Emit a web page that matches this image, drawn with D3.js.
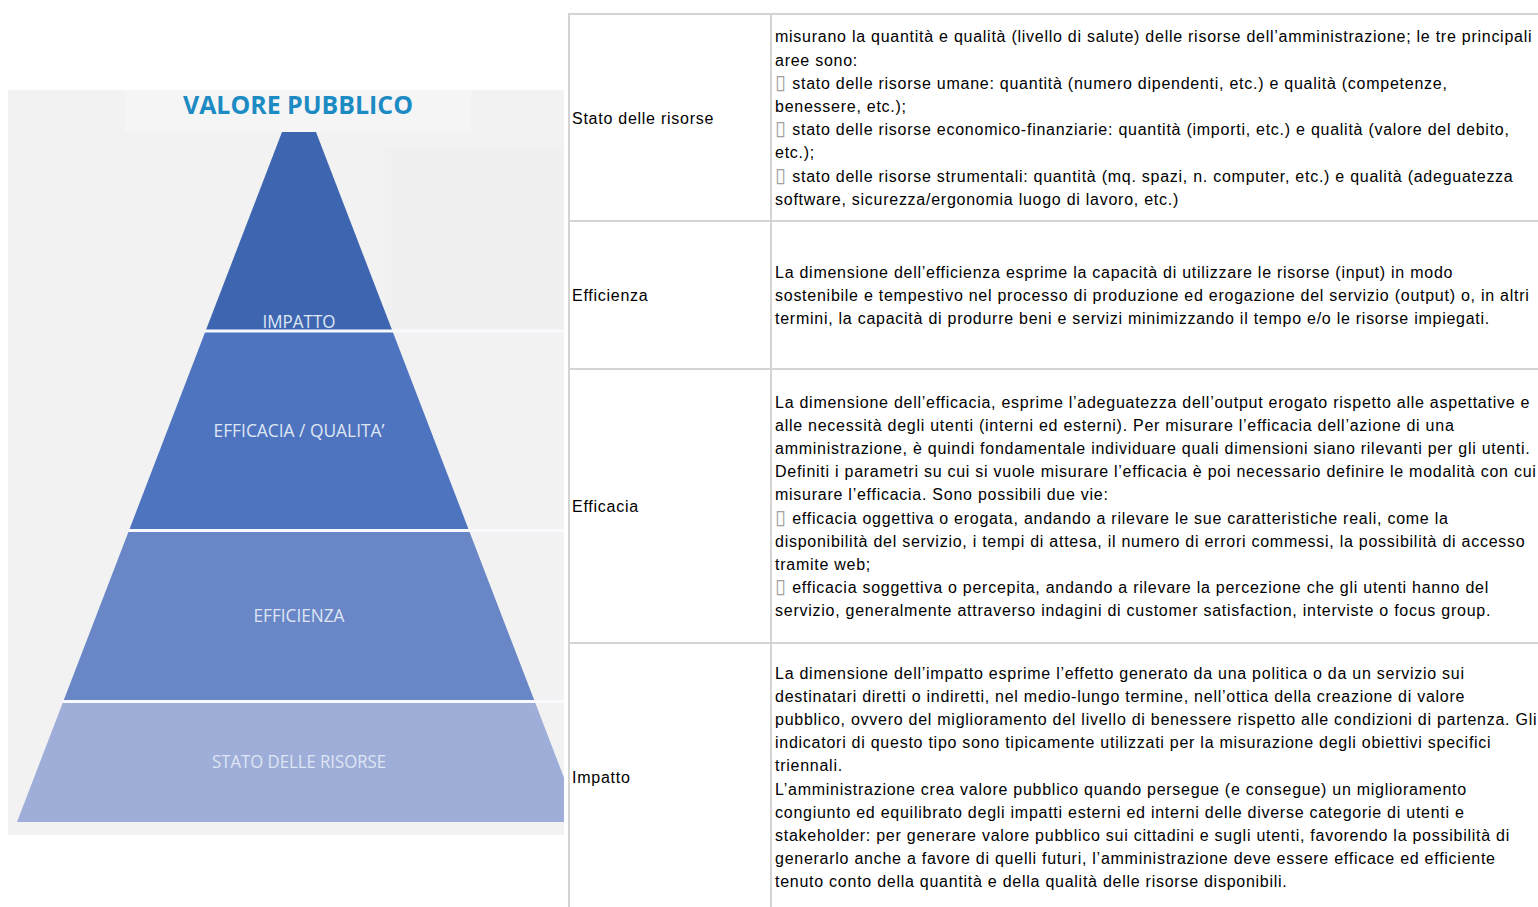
<!DOCTYPE html>
<html><head><meta charset="utf-8">
<script src="https://cdn.jsdelivr.net/npm/d3@7"></script>
<style>html,body{margin:0;padding:0;background:#fff;overflow:hidden}</style>
</head><body><svg id="c" width="1538" height="907"></svg>
<script>
// ---------- data ----------
const title = "VALORE PUBBLICO";
const levels = ["IMPATTO", "EFFICACIA / QUALITA’", "EFFICIENZA", "STATO DELLE RISORSE"];
const levelBounds = [0, 0.287, 0.576, 0.824, 1];       // share of pyramid height
const levelColors = ["#3e66b0", "#4e74bf", "#6987c7", "#9eaed9"];
const rowLabels = ["Stato delle risorse", "Efficienza", "Efficacia", "Impatto"];
const BOX = "\u25AF";
const rowTexts = [
  [
    "misurano la quantità e qualità (livello di salute) delle risorse dell’amministrazione; le tre principali",
    "aree sono:",
    BOX + " stato delle risorse umane: quantità (numero dipendenti, etc.) e qualità (competenze,",
    "benessere, etc.);",
    BOX + " stato delle risorse economico-finanziarie: quantità (importi, etc.) e qualità (valore del debito,",
    "etc.);",
    BOX + " stato delle risorse strumentali: quantità (mq. spazi, n. computer, etc.) e qualità (adeguatezza",
    "software, sicurezza/ergonomia luogo di lavoro, etc.)"
  ],
  [
    "La dimensione dell’efficienza esprime la capacità di utilizzare le risorse (input) in modo",
    "sostenibile e tempestivo nel processo di produzione ed erogazione del servizio (output) o, in altri",
    "termini, la capacità di produrre beni e servizi minimizzando il tempo e/o le risorse impiegati."
  ],
  [
    "La dimensione dell’efficacia, esprime l’adeguatezza dell’output erogato rispetto alle aspettative e",
    "alle necessità degli utenti (interni ed esterni). Per misurare l’efficacia dell’azione di una",
    "amministrazione, è quindi fondamentale individuare quali dimensioni siano rilevanti per gli utenti.",
    "Definiti i parametri su cui si vuole misurare l’efficacia è poi necessario definire le modalità con cui",
    "misurare l’efficacia. Sono possibili due vie:",
    BOX + " efficacia oggettiva o erogata, andando a rilevare le sue caratteristiche reali, come la",
    "disponibilità del servizio, i tempi di attesa, il numero di errori commessi, la possibilità di accesso",
    "tramite web;",
    BOX + " efficacia soggettiva o percepita, andando a rilevare la percezione che gli utenti hanno del",
    "servizio, generalmente attraverso indagini di customer satisfaction, interviste o focus group."
  ],
  [
    "La dimensione dell’impatto esprime l’effetto generato da una politica o da un servizio sui",
    "destinatari diretti o indiretti, nel medio-lungo termine, nell’ottica della creazione di valore",
    "pubblico, ovvero del miglioramento del livello di benessere rispetto alle condizioni di partenza. Gli",
    "indicatori di questo tipo sono tipicamente utilizzati per la misurazione degli obiettivi specifici",
    "triennali.",
    "L’amministrazione crea valore pubblico quando persegue (e consegue) un miglioramento",
    "congiunto ed equilibrato degli impatti esterni ed interni delle diverse categorie di utenti e",
    "stakeholder: per generare valore pubblico sui cittadini e sugli utenti, favorendo la possibilità di",
    "generarlo anche a favore di quelli futuri, l’amministrazione deve essere efficace ed efficiente",
    "tenuto conto della quantità e della qualità delle risorse disponibili."
  ]
];

// ---------- layout ----------
const svg = d3.select("#c");
const panel = {x: 8, y: 90, w: 556, h: 745};
const cx = 299;
const y = d3.scaleLinear().domain([0, 1]).range([132, 822]);
const hw = d3.scaleLinear().domain([0, 1]).range([17, 282]);

// panel background
svg.append("rect").attr("x", panel.x).attr("y", panel.y).attr("width", panel.w).attr("height", panel.h).attr("fill", "#f2f2f2");
svg.append("rect").attr("x", 385).attr("y", 148).attr("width", 179).attr("height", 182).attr("fill", "#f0f0f0");
svg.append("rect").attr("x", 125).attr("y", 90).attr("width", 346).attr("height", 42).attr("fill", "#f5f5f5");

svg.append("defs").append("clipPath").attr("id", "pc")
  .append("rect").attr("x", panel.x).attr("y", panel.y).attr("width", panel.w).attr("height", panel.h);

const g = svg.append("g").attr("clip-path", "url(#pc)");
const segs = levels.map((name, i) => ({name, i, t0: levelBounds[i], t1: levelBounds[i + 1]}));

g.selectAll("path.seg").data(segs).join("path")
  .attr("class", "seg")
  .attr("fill", d => levelColors[d.i])
  .attr("d", d => {
    const p = d3.path();
    p.moveTo(cx - hw(d.t0), y(d.t0));
    p.lineTo(cx + hw(d.t0), y(d.t0));
    p.lineTo(cx + hw(d.t1), y(d.t1));
    p.lineTo(cx - hw(d.t1), y(d.t1));
    p.closePath();
    return p.toString();
  });

// separators
g.selectAll("line.sep").data(levelBounds.slice(1, 4)).join("line")
  .attr("x1", t => cx - hw(t) - 1).attr("x2", panel.x + panel.w)
  .attr("y1", t => y(t) + 1).attr("y2", t => y(t) + 1)
  .attr("stroke", "#f7f9fd").attr("stroke-width", 3);

// level labels
const labelW = [73, 171, 91, 174];
g.selectAll("text.lab").data(segs).join("text")
  .attr("x", cx)
  .attr("y", d => d.i === 0 ? y(d.t1) - 2 : (y(d.t0) + y(d.t1)) / 2 + 7)
  .attr("text-anchor", "middle")
  .attr("font-family", "'Open Sans', sans-serif")
  .attr("font-size", 18)
  .attr("fill", "#dfe6f4")
  .attr("textLength", d => labelW[d.i])
  .attr("lengthAdjust", "spacingAndGlyphs")
  .text(d => d.name);

// title
svg.append("text").attr("x", 298).attr("y", 114)
  .attr("text-anchor", "middle")
  .attr("font-family", "'Open Sans', sans-serif").attr("font-weight", 700)
  .attr("font-size", 25).attr("fill", "#1d8bc3")
  .attr("textLength", 230).attr("lengthAdjust", "spacingAndGlyphs")
  .text(title);

// ---------- table ----------
const rowHeights = [207, 148, 274, 268];
const tableTop = 14, colX = [569, 771, 1545], lh = 23.2;
const rowY = [tableTop];
rowHeights.forEach(h => rowY.push(rowY[rowY.length - 1] + h));
const rows = rowLabels.map((lab, i) => ({lab, lines: rowTexts[i], y0: rowY[i], y1: rowY[i + 1]}));

const tg = svg.append("g").attr("font-family", "'Liberation Sans', Arial, sans-serif")
  .attr("font-size", 16).attr("letter-spacing", "0.74px").attr("fill", "#000");
tg.selectAll("line.h").data(rowY).join("line")
  .attr("x1", colX[0]).attr("x2", colX[2]).attr("y1", d => d).attr("y2", d => d)
  .attr("stroke", "#d4d4d4").attr("stroke-width", 2);
tg.selectAll("line.v").data(colX.slice(0, 2)).join("line")
  .attr("x1", d => d).attr("x2", d => d).attr("y1", tableTop - 1).attr("y2", rowY[rowY.length - 1])
  .attr("stroke", "#d4d4d4").attr("stroke-width", 2);

const rg = tg.selectAll("g.row").data(rows).join("g");
rg.append("text").attr("x", colX[0] + 3).attr("y", d => (d.y0 + d.y1) / 2 + 6).text(d => d.lab);
rg.each(function(d) {
  const mid = (d.y0 + d.y1) / 2;
  const n = d.lines.length;
  d3.select(this).selectAll("text.ln").data(d.lines).join("text")
    .attr("x", colX[1] + 4)
    .attr("y", (s, k) => mid + (k - (n - 1) / 2) * lh + 6)
    .each(function(s) {
      const t = d3.select(this);
      if (s.startsWith(BOX)) {
        t.append("tspan").attr("fill", "#a0a0a0").attr("font-size", 20).attr("letter-spacing", "0px")
          .attr("font-family", "'DejaVu Sans'").text(BOX);
        t.append("tspan").attr("dx", 1).text(s.slice(1));
      } else t.text(s);
    });
});
</script></body></html>
